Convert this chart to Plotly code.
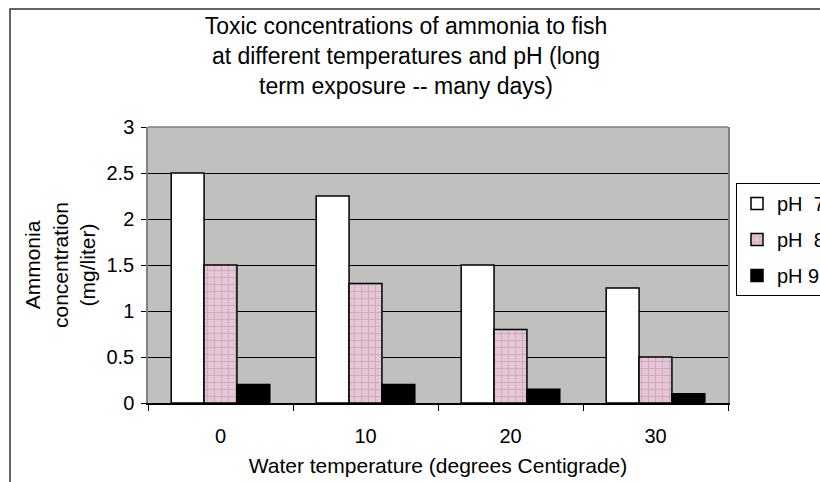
import plotly.graph_objects as go

categories = ["0", "10", "20", "30"]
series_names = ["pH  7", "pH  8", "pH 9"]
ph7 = [2.5, 2.25, 1.5, 1.25]
ph8 = [1.5, 1.3, 0.8, 0.5]
ph9 = [0.2, 0.2, 0.15, 0.1]
y_ticks = [0, 0.5, 1, 1.5, 2, 2.5, 3]
y_ticklabels = ["0", "0.5", "1", "1.5", "2", "2.5", "3"]

title_text = ("Toxic concentrations of ammonia to fish<br>"
              "at different temperatures and pH (long<br>"
              "term exposure -- many days)")

FONT = "Liberation Sans, Arial, sans-serif"

# page body margin is removed by post_script below, so page px == figure px
O = 0
W, H = 820, 482
plot_left, plot_right, plot_top, plot_bottom = 148, 728, 127, 403
L = plot_left - O
R = W - (plot_right - O)
T = plot_top - O
B = H - (plot_bottom - O)
pw, ph = plot_right - plot_left, plot_bottom - plot_top

def px2paper_x(px):
    return (px - plot_left) / pw

def px2paper_y(py):
    return (plot_bottom - py) / ph

fig = go.Figure()
fig.add_trace(go.Bar(
    x=categories, y=ph7, name=series_names[0], legendgroup="a",
    marker=dict(color="white", line=dict(color="black", width=1.5)),
))
fig.add_trace(go.Bar(
    x=categories, y=ph8, name=series_names[1], legendgroup="b",
    marker=dict(color="#e8c4d6", line=dict(color="black", width=1.5),
                pattern=dict(shape="+", fgcolor="#9a9a9a", bgcolor="#e8c4d6",
                             size=7, solidity=0.25)),
))
fig.add_trace(go.Bar(
    x=categories, y=ph9, name=series_names[2], legendgroup="c",
    marker=dict(color="black", line=dict(color="black", width=1.5)),
))

fig.update_layout(
    width=W, height=H,
    margin=dict(l=L, r=R, t=T, b=B, autoexpand=False),
    paper_bgcolor="white",
    plot_bgcolor="#c0c0c0",
    font=dict(family=FONT, size=20, color="black"),
    barmode="group", bargap=0.32, bargroupgap=0,
    title=dict(text=title_text, x=(406 - O) / W, xref="container", xanchor="center",
               y=1 - (34 - O) / H, yref="container", yanchor="top",
               font=dict(family=FONT, size=23, color="black")),
    showlegend=True,
    legend=dict(x=px2paper_x(736), y=px2paper_y(183), xanchor="left", yanchor="top",
                bgcolor="white", bordercolor="black", borderwidth=1,
                font=dict(family=FONT, size=20, color="black"),
                traceorder="grouped", tracegroupgap=7, itemwidth=30),
    xaxis=dict(type="category", tickson="boundaries", ticks="outside", ticklen=6,
               tickcolor="black", showline=True, linecolor="black", linewidth=1.5,
               showgrid=False, ticklabelstandoff=14,
               tickfont=dict(family=FONT, size=20),
               title=dict(text="Water temperature (degrees Centigrade)", standoff=13,
                          font=dict(family=FONT, size=21))),
    yaxis=dict(range=[0, 3], tickvals=y_ticks, ticktext=y_ticklabels,
               ticks="outside", ticklen=5, tickcolor="black",
               tickfont=dict(family=FONT, size=20), ticklabelstandoff=3,
               showline=True, linecolor="#808080", linewidth=1.5, mirror=True,
               showgrid=True, gridcolor="black", gridwidth=1, zeroline=False,
               title=dict(text="Ammonia<br>concentration<br>(mg/liter)", standoff=5,
                          font=dict(family=FONT, size=21))),
    shapes=[
        dict(type="line", xref="paper", yref="paper", x0=0, x1=1, y0=1, y1=1,
             line=dict(color="#808080", width=1.5), layer="above"),
        dict(type="rect", xref="paper", yref="paper",
             x0=px2paper_x(10), x1=px2paper_x(830), y0=px2paper_y(490), y1=px2paper_y(9),
             line=dict(color="#333333", width=1.5), layer="below"),
    ],
)

fig.write_html("out.html",
               config={"displayModeBar": False},
               post_script="document.body.style.margin='0px';"
                           "document.body.style.overflow='hidden';")
